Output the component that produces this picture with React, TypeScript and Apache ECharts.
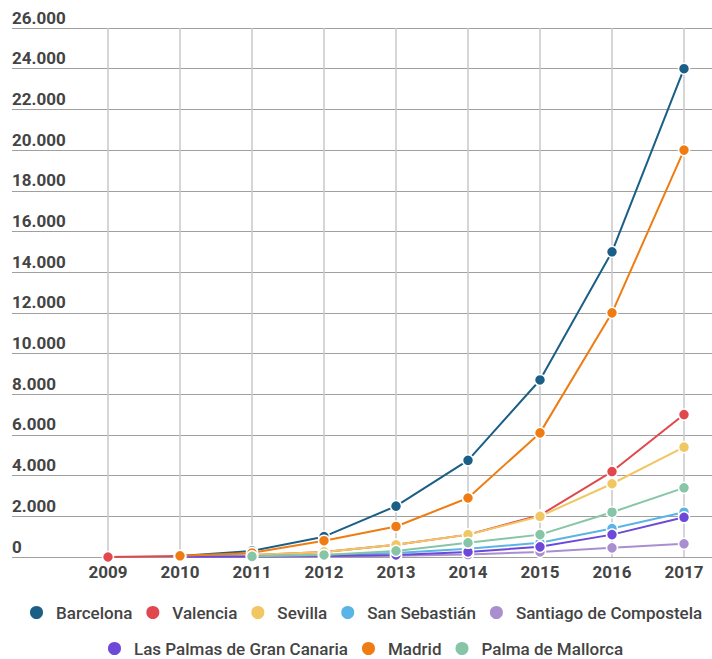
import React, { useEffect, useRef } from "react";
import * as echarts from "echarts";

const years = ["2009", "2010", "2011", "2012", "2013", "2014", "2015", "2016", "2017"];
const seriesNames = [
  "Barcelona",
  "Valencia",
  "Sevilla",
  "San Sebastián",
  "Santiago de Compostela",
  "Las Palmas de Gran Canaria",
  "Madrid",
  "Palma de Mallorca",
];
const barcelona = [null, 50, 300, 1000, 2500, 4750, 8700, 15000, 24000];
const valencia = [0, 50, 100, 250, 600, 1100, 2050, 4200, 7000];
const sevilla = [null, 30, 100, 250, 600, 1100, 2000, 3600, 5400];
const sanSebastian = [null, 20, 50, 100, 200, 400, 700, 1400, 2200];
const santiago = [null, 10, 20, 30, 60, 120, 250, 450, 650];
const lasPalmas = [null, 10, 20, 50, 100, 250, 500, 1100, 1950];
const madrid = [null, 60, 200, 800, 1500, 2900, 6100, 12000, 20000];
const palma = [null, null, 30, 100, 300, 700, 1100, 2200, 3400];
const seriesValues = [barcelona, valencia, sevilla, sanSebastian, santiago, lasPalmas, madrid, palma];
const colors = ["#1b5e86", "#e0484d", "#f0c762", "#5ab4e5", "#a98fcf", "#6d48d9", "#ef7c12", "#86c5a5"];

export default function App() {
  const ref = useRef<HTMLDivElement>(null);
  useEffect(() => {
    if (!ref.current) return;
    const chart = echarts.init(ref.current, null, { renderer: "svg" });
    const font = "Roboto, 'Noto Sans', sans-serif";
    const legendText = { fontSize: 17, color: "#444", fontFamily: font, fontWeight: 500, padding: [0, 0, 0, 7] };
    chart.setOption({
      animation: false,
      color: colors,
      grid: [
        { left: 108, right: 28, top: 28, bottom: 102 },
        { left: 12, right: 0, top: 28, bottom: 102 },
      ],
      xAxis: [
        {
          type: "category",
          gridIndex: 0,
          data: years,
          boundaryGap: false,
          axisLine: { show: false },
          axisTick: { show: false },
          axisLabel: { color: "#444", fontSize: 17, fontWeight: "bold", fontFamily: font, margin: 6 },
          splitLine: { show: true, lineStyle: { color: "#c9c9c9", width: 1.5 } },
        },
        { type: "value", gridIndex: 1, show: false, min: 0, max: 1 },
      ],
      yAxis: [
        { type: "value", gridIndex: 0, min: 0, max: 26000, interval: 2000, show: false },
        {
          type: "value",
          gridIndex: 1,
          min: 0,
          max: 26000,
          interval: 2000,
          axisLine: { show: false },
          axisTick: { show: false },
          splitLine: { show: true, lineStyle: { color: "#a0a0a0", width: 1.2 } },
          axisLabel: {
            inside: true,
            margin: 0,
            align: "left",
            verticalAlign: "bottom",
            padding: [0, 0, 2, 0],
            color: "#444",
            fontSize: 17,
            fontWeight: "bold",
            fontFamily: font,
            formatter: (v: number) => v.toLocaleString("de-DE"),
          },
        },
      ],
      legend: [
        {
          data: seriesNames.slice(0, 5),
          top: 599,
          left: 23,
          padding: 5,
          icon: "circle",
          itemWidth: 15,
          itemHeight: 15,
          itemGap: 12,
          textStyle: legendText,
        },
        {
          data: seriesNames.slice(5),
          top: 635,
          left: 101,
          padding: 5,
          icon: "circle",
          itemWidth: 15,
          itemHeight: 15,
          itemGap: 12,
          textStyle: legendText,
        },
      ],
      series: seriesNames.map((name, i) => ({
        name,
        type: "line",
        xAxisIndex: 0,
        yAxisIndex: 0,
        data: seriesValues[i],
        symbol: "circle",
        symbolSize: 11,
        showSymbol: true,
        lineStyle: { width: 2, color: colors[i] },
        itemStyle: { color: colors[i], borderColor: "#fff", borderWidth: 1.5 },
      })),
    });
    return () => chart.dispose();
  }, []);
  return (
    <div
      ref={ref}
      style={{ position: "fixed", left: 0, top: 0, width: 712, height: 659, background: "#fff" }}
    />
  );
}
